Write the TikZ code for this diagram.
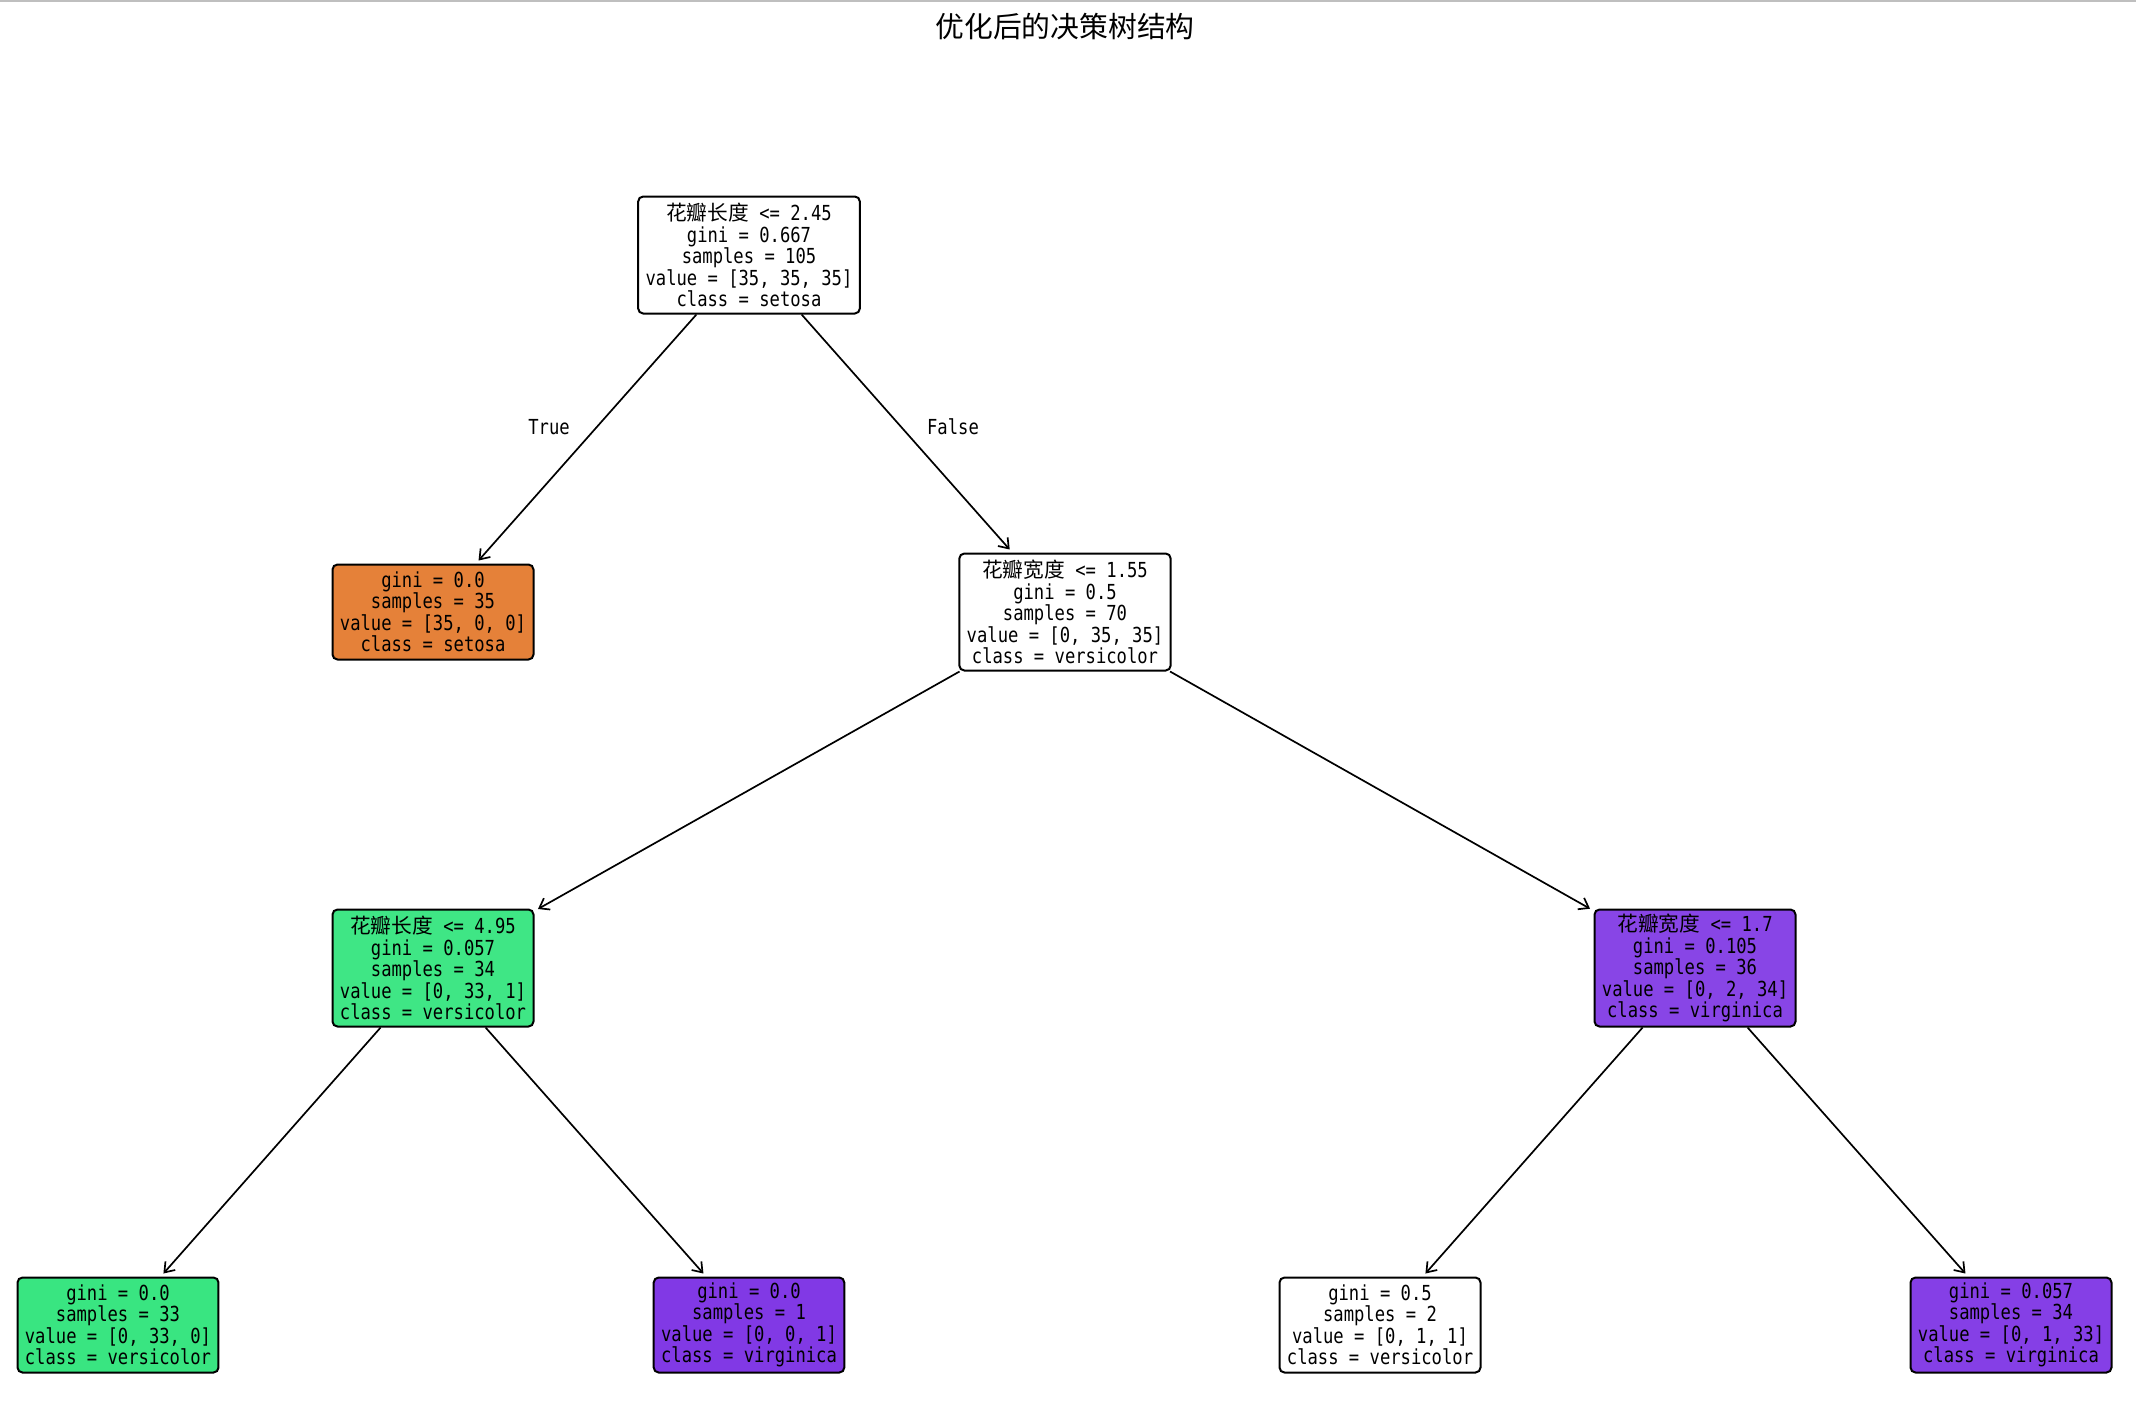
\documentclass[tikz,border=0pt]{standalone}
\usepackage{fontspec}
\setmainfont{DejaVu Sans Mono}[FakeStretch=0.83]
\newfontfamily\cjk{Noto Sans CJK SC}
\usetikzlibrary{arrows.meta}
\definecolor{setosaC}{RGB}{229,129,57}
\definecolor{versiC}{RGB}{57,229,129}
\definecolor{versiL}{RGB}{63,230,133}
\definecolor{virgC}{RGB}{129,57,229}
\definecolor{virgM}{RGB}{136,69,230}
\definecolor{virgL}{RGB}{133,63,230}
\begin{document}
\begin{tikzpicture}[
    x=0.5pt, y=-0.5pt,
    mybox/.style={draw, rounded corners=2.5pt, line width=1pt, align=center,
        inner xsep=3.7pt, inner ysep=0pt, minimum height=58.5pt,
        font=\fontsize{10.35pt}{10.75pt}\selectfont},
    myleaf/.style={mybox, minimum height=47.5pt},
    myedge/.style={->, >={Straight Barb[length=4.5pt, width=6.5pt]}, line width=0.85pt, shorten >=2pt},
    mylabel/.style={font=\fontsize{10.35pt}{12pt}\selectfont}
]
    \useasboundingbox (0,0) rectangle (2136,1404);
    \draw[gray!50, line width=1pt] (0,1) -- (2136,1);

    % Title
    \node[font=\cjk\fontsize{14.4pt}{16pt}\selectfont] (title) at (1065,27) {优化后的决策树结构};

    % Depth 0 and 1
    \node[mybox] (root) at (749,255)
        {{\cjk 花瓣长度} <= 2.45\\gini = 0.667\\samples = 105\\value = [35, 35, 35]\\class = setosa};
    \node[myleaf, fill=setosaC] (setosa) at (433,612)
        {gini = 0.0\\samples = 35\\value = [35, 0, 0]\\class = setosa};
    \node[mybox] (wid1) at (1065,612)
        {{\cjk 花瓣宽度} <= 1.55\\gini = 0.5\\samples = 70\\value = [0, 35, 35]\\class = versicolor};

    % Depth 2
    \node[mybox, fill=versiL] (len2) at (433,968)
        {{\cjk 花瓣长度} <= 4.95\\gini = 0.057\\samples = 34\\value = [0, 33, 1]\\class = versicolor};
    \node[mybox, fill=virgM] (wid2) at (1695,968)
        {{\cjk 花瓣宽度} <= 1.7\\gini = 0.105\\samples = 36\\value = [0, 2, 34]\\class = virginica};

    % Leaves
    \node[myleaf, fill=versiC] (leafA) at (118,1325)
        {gini = 0.0\\samples = 33\\value = [0, 33, 0]\\class = versicolor};
    \node[myleaf, fill=virgC] (leafB) at (749,1325)
        {gini = 0.0\\samples = 1\\value = [0, 0, 1]\\class = virginica};
    \node[myleaf] (leafC) at (1380,1325)
        {gini = 0.5\\samples = 2\\value = [0, 1, 1]\\class = versicolor};
    \node[myleaf, fill=virgL] (leafD) at (2011,1325)
        {gini = 0.057\\samples = 34\\value = [0, 1, 33]\\class = virginica};

    % Edges
    \draw[myedge] (root) -- (setosa);
    \draw[myedge] (root) -- (wid1);
    \draw[myedge] (wid1) -- (len2);
    \draw[myedge] (wid1) -- (wid2);
    \draw[myedge] (len2) -- (leafA);
    \draw[myedge] (len2) -- (leafB);
    \draw[myedge] (wid2) -- (leafC);
    \draw[myedge] (wid2) -- (leafD);

    \node[mylabel] (lTrue) at (549,427) {True};
    \node[mylabel] (lFalse) at (953,427) {False};
\end{tikzpicture}
\end{document}
